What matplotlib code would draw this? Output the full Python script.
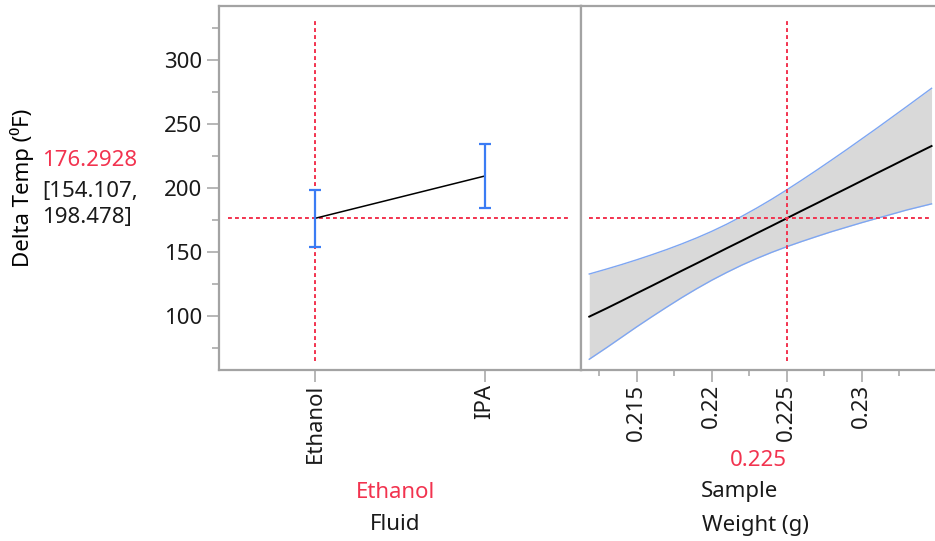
import numpy as np
import matplotlib
matplotlib.use('Agg')
import matplotlib.pyplot as plt
from matplotlib.ticker import FixedLocator, MultipleLocator, FuncFormatter

plt.rcParams['font.family'] = ['Noto Sans', 'DejaVu Sans']
plt.rcParams['font.size'] = 16

# --- data read from the profiler ---
fluids = ['Ethanol', 'IPA']
fluid_pred = [176.2928, 209.4]
fluid_lower = [154.107, 184.5]
fluid_upper = [198.478, 234.2]

weight = [0.21184, 0.213, 0.214, 0.215, 0.216, 0.217, 0.218, 0.219,
          0.220, 0.221, 0.222, 0.223, 0.224, 0.225, 0.226, 0.227,
          0.228, 0.229, 0.230, 0.231, 0.232, 0.233, 0.23466]
weight_pred = [99.5, 106.0, 111.8, 117.7, 123.5, 129.4, 135.3, 141.1,
               147.0, 152.9, 158.7, 164.6, 170.4, 176.3, 182.2, 188.0,
               193.9, 199.7, 205.6, 211.5, 217.3, 223.2, 232.8]
weight_upper = [132.8, 136.7, 140.2, 143.9, 147.8, 151.9, 156.3, 161.0,
                166.1, 171.7, 177.8, 184.3, 191.2, 198.5, 206.1, 213.9,
                221.9, 230.0, 238.3, 246.6, 255.1, 263.6, 277.9]
weight_lower = [66.2, 75.3, 83.4, 91.5, 99.3, 106.9, 114.3, 121.3,
                127.9, 134.0, 139.7, 144.9, 149.7, 154.1, 158.2, 162.1,
                165.9, 169.4, 172.9, 176.2, 179.5, 182.8, 187.6]

cur_fluid = 'Ethanol'
cur_weight = 0.225
cur_pred = 176.2928
cur_ci = (154.107, 198.478)

RED = '#f2334f'
BLUE = '#3b7cf4'
LIGHT_BLUE = '#7ea6f2'
GRAY = '#a3a3a3'

W, H = 935, 541
fig = plt.figure(figsize=(W / 100, H / 100), dpi=100)


def box(x0, y0, x1, y1):
    return [x0 / W, 1 - y1 / H, (x1 - x0) / W, (y1 - y0) / H]


ax1 = fig.add_axes(box(219, 6, 581, 370))
ax2 = fig.add_axes(box(581, 6, 935, 370))

for ax in (ax1, ax2):
    for s in ax.spines.values():
        s.set_color(GRAY)
        s.set_linewidth(1.6)
    ax.set_ylim(57.8, 342.2)
ax2.spines['right'].set_visible(False)

# --- left panel: Fluid ---
x = np.arange(len(fluids))
pred = np.array(fluid_pred)
yerr = [pred - np.array(fluid_lower), np.array(fluid_upper) - pred]
ax1.plot(x, pred, color='black', lw=1.1, zorder=3)
ax1.errorbar(x, pred, yerr=yerr, fmt='none', ecolor=BLUE, elinewidth=1.6,
             capsize=4, capthick=1.6, zorder=4)
ax1.plot([-0.51, 1.49], [cur_pred, cur_pred], color=RED, lw=1.4,
         ls=(0, (2, 1.6)), zorder=2)
ax1.plot([0, 0], [65.2, 330.6], color=RED, lw=1.4, ls=(0, (2, 1.6)), zorder=2)
ax1.set_xlim(-0.565, 1.565)
ax1.set_xticks(x)
ax1.set_xticklabels(fluids, rotation=90)
ax1.yaxis.set_major_locator(FixedLocator([100, 150, 200, 250, 300]))
ax1.yaxis.set_minor_locator(FixedLocator([75, 125, 175, 225, 275, 325]))
ax1.tick_params(axis='both', which='major', length=8.6, width=1.1, color=GRAY,
                labelcolor='#1a1a1a', labelsize=16)
ax1.tick_params(axis='y', which='major', pad=3.5)
ax1.tick_params(axis='x', which='major', pad=1.5)
ax1.tick_params(axis='y', which='minor', length=5, width=1.1, color=GRAY)

# --- right panel: Sample Weight ---
ax2.fill_between(weight, weight_lower, weight_upper, color='#d9d9d9', lw=0, zorder=1)
ax2.plot(weight, weight_upper, color=LIGHT_BLUE, lw=1.0, zorder=2)
ax2.plot(weight, weight_lower, color=LIGHT_BLUE, lw=1.0, zorder=2)
ax2.plot(weight, weight_pred, color='black', lw=1.4, zorder=3)
ax2.plot([weight[0], weight[-1]], [cur_pred, cur_pred], color=RED, lw=1.4,
         ls=(0, (2, 1.6)), zorder=4)
ax2.plot([cur_weight, cur_weight], [65.2, 330.6], color=RED, lw=1.4,
         ls=(0, (2, 1.6)), zorder=4)
ax2.set_xlim(0.21129, 0.23489)
ax2.xaxis.set_major_locator(FixedLocator([0.215, 0.22, 0.225, 0.23]))
ax2.xaxis.set_minor_locator(FixedLocator([0.2125, 0.2175, 0.2225, 0.2275, 0.2325]))
ax2.xaxis.set_major_formatter(FuncFormatter(lambda v, p: f'{v:g}'))
ax2.tick_params(axis='x', which='major', length=8.6, width=1.1, color=GRAY,
                labelcolor='#1a1a1a', labelsize=16, labelrotation=90, pad=1.5)
ax2.tick_params(axis='x', which='minor', length=4.5, width=1.1, color=GRAY)
ax2.tick_params(axis='y', which='both', left=False, labelleft=False)

# --- labels around the panels ---
def px(xp, yp):
    return xp / W, 1 - yp / H


fig.text(*px(22, 188), 'Delta Temp (⁰F)', rotation=90, ha='center', va='center')
fig.text(*px(42, 166), f'{cur_pred}', color=RED, ha='left', va='baseline')
fig.text(*px(42, 197), f'[{cur_ci[0]},', color='#1a1a1a', ha='left', va='baseline')
fig.text(*px(42, 223), f'{cur_ci[1]}]', color='#1a1a1a', ha='left', va='baseline')

fig.text(*px(758, 460), f'{cur_weight}', color=RED, ha='center', va='center')
fig.text(*px(395, 492), cur_fluid, color=RED, ha='center', va='center')
fig.text(*px(395, 525), 'Fluid', color='#1a1a1a', ha='center', va='center')
fig.text(*px(739, 492), 'Sample', color='#1a1a1a', ha='center', va='center')
fig.text(*px(755, 525), 'Weight (g)', color='#1a1a1a', ha='center', va='center')

fig.savefig('out.png', dpi=100)
